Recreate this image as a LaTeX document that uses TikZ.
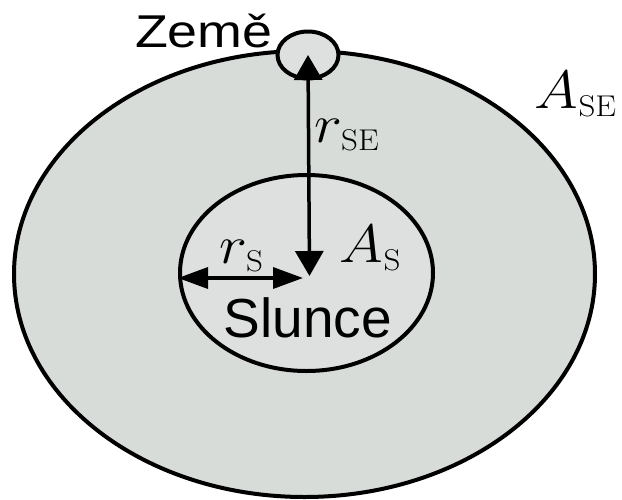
\RequirePackage{fix-cm}
\documentclass[tikz,border=0pt]{standalone}
\usepackage{fontspec}
\newfontfamily\arialfont{Liberation Sans}
\usetikzlibrary{shapes.geometric, arrows.meta}
\DeclareMathSizes{54}{54}{30}{22}
\definecolor{orbitgray}{RGB}{215,220,217}
\definecolor{sungray}{RGB}{222,223,223}

\begin{document}
\begin{tikzpicture}[x=1pt, y=-1pt, line width=3.5pt,
    body/.style={ellipse, draw, line width=4pt, inner sep=0pt},
    word/.style={font=\arialfont\fontsize{46}{50}\selectfont, inner sep=0pt, anchor=base west},
    sym/.style={font=\fontsize{54}{58}\selectfont, inner sep=0pt, anchor=base west, xscale=1.1},
    vlen/.style={{Triangle[length=25pt,width=28pt]}-{Triangle[length=25pt,width=28pt]}},
    hlen/.style={{Triangle[length=30pt,width=21pt]}-{Triangle[length=30pt,width=21pt]}}]
    \useasboundingbox (0,0) rectangle (622,499);

    \node[body, fill=orbitgray, minimum width=581pt, minimum height=446pt] (orbit) at (304.5,274) {};
    \node[body, fill=sungray, minimum width=253pt, minimum height=196pt] (sun) at (306.5,273) {};
    \node[body, fill=sungray, minimum width=61pt, minimum height=47pt] (earth) at (308,55) {};

    \coordinate (sc) at (309.5,276);
    \coordinate (hr) at (303,278);

    \draw[vlen] (earth.center) -- (sc);
    \draw[hlen] (sun.west |- hr) -- (hr);

    \node[word, xscale=1.17] (zlabel) at (133,47) {Země};
    \node[word, font=\arialfont\fontsize{55}{60}\selectfont] (slabel) at (222,337) {Slunce};
    \node[sym] (ase) at (533,108) {$A_{\mathrm{SE}}$};
    \node[sym] (rse) at (313,142) {$r_{\mathrm{SE}}$};
    \node[sym] (rs) at (218,263) {$r_{\mathrm{S}}$};
    \node[sym] (as) at (338,262) {$A_{\mathrm{S}}$};
\end{tikzpicture}
\end{document}
